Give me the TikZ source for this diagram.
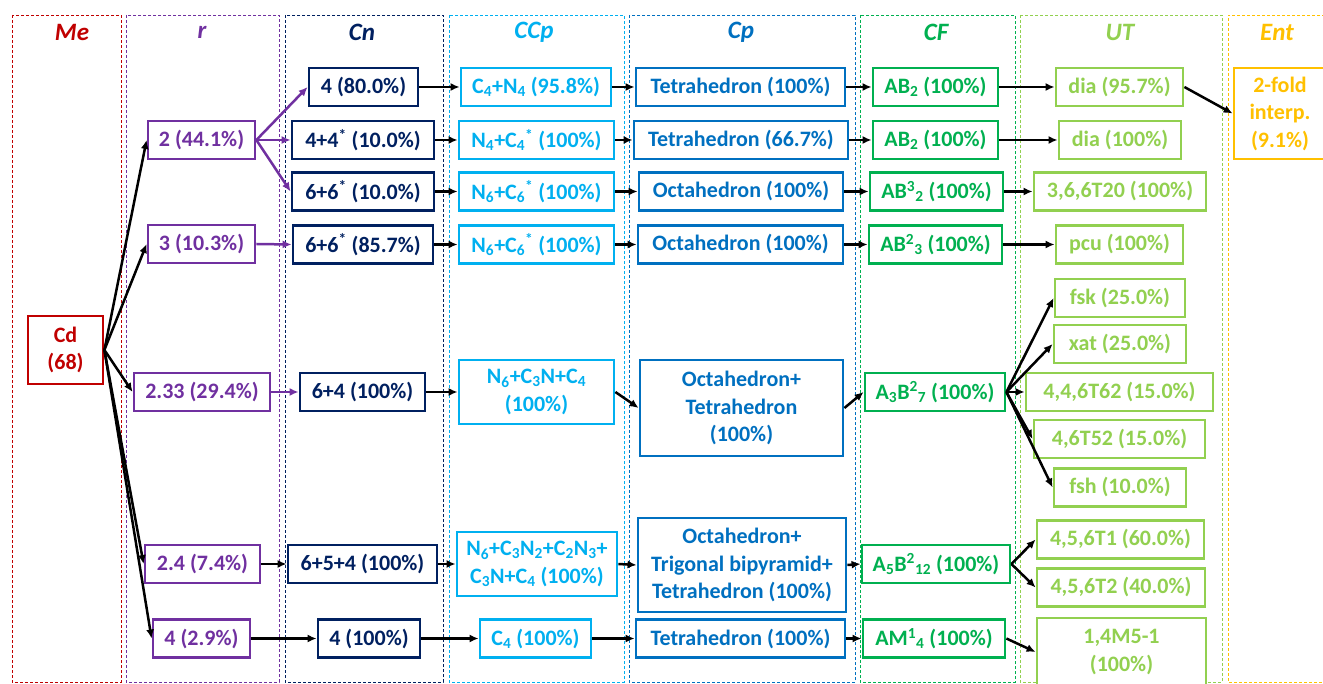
\documentclass[tikz,border=0pt]{standalone}
\usepackage{fontspec}
\setmainfont{Carlito}
\usepackage{xcolor}
\usetikzlibrary{arrows.meta}
\definecolor{mecol}{HTML}{C00000}
\definecolor{rcol}{HTML}{7030A0}
\definecolor{cncol}{HTML}{002060}
\definecolor{ccpcol}{HTML}{00B0F0}
\definecolor{cpcol}{HTML}{0070C0}
\definecolor{cfcol}{HTML}{00B050}
\definecolor{utcol}{HTML}{92D050}
\definecolor{entcol}{HTML}{FFC000}
\tikzstyle{box}=[
        draw,
        line width = 2.8pt,
        fill = white,
        font = \bfseries\fontsize{22}{27.5}\selectfont,
        align = center,
        inner sep = 0pt,
        minimum height = 38pt
    ]
\tikzstyle{me box}=[box, draw = mecol, text = mecol]
\tikzstyle{r box}=[box, draw = rcol, text = rcol]
\tikzstyle{cn box}=[box, draw = cncol, text = cncol]
\tikzstyle{ccp box}=[box, draw = ccpcol, text = ccpcol]
\tikzstyle{cp box}=[box, draw = cpcol, text = cpcol]
\tikzstyle{cf box}=[box, draw = cfcol, text = cfcol]
\tikzstyle{ut box}=[box, draw = utcol, text = utcol]
\tikzstyle{ent box}=[box, draw = entcol, text = entcol]
\tikzstyle{column}=[line width = 0.9pt, dash pattern = on 3pt off 2pt]
\tikzstyle{head}=[font = \bfseries\itshape\fontsize{25}{29}\selectfont]
\tikzstyle{arrow}=[line width = 2.5pt, -{Latex[length=9pt,width=8pt]}]
\begin{document}
\begin{tikzpicture}[x=1pt, y=-1pt]
        \clip (0,0) rectangle (1323,684);
        \fill[white] (0,0) rectangle (1323,684);

        % columns
        \draw[column, draw = mecol] (12,15) rectangle (121,682);
        \draw[column, draw = rcol] (126,15) rectangle (279,682);
        \draw[column, draw = cncol] (285,15) rectangle (443,682);
        \draw[column, draw = ccpcol] (449,15) rectangle (624,682);
        \draw[column, draw = cpcol] (629,15) rectangle (855,682);
        \draw[column, draw = cfcol] (860,15) rectangle (1015,682);
        \draw[column, draw = utcol] (1020,15) rectangle (1222,682);
        \draw[column, draw = entcol] (1340,15) -- (1228,15) -- (1228,682) -- (1340,682);

        \node[head, text = mecol] (hme) at (72,32) {Me};
        \node[head, text = rcol] (hr) at (202,32) {r};
        \node[head, text = cncol] (hcn) at (362,32) {Cn};
        \node[head, text = ccpcol] (hccp) at (534,32) {CCp};
        \node[head, text = cpcol] (hcp) at (741,32) {Cp};
        \node[head, text = cfcol] (hcf) at (936,32) {CF};
        \node[head, text = utcol] (hut) at (1120,32) {UT};
        \node[head, text = entcol] (hent) at (1277,32) {Ent};

        % Me
        \node[me box, minimum width = 75pt, minimum height = 68pt] (cd) at (65.5,350) {Cd\\(68)};

        % r
        \node[r box, minimum width = 107pt] (r1) at (201.5,140) {2 (44.1\%)};
        \node[r box, minimum width = 107pt] (r2) at (201.5,244) {3 (10.3\%)};
        \node[r box, minimum width = 136pt] (r3) at (202,392) {2.33 (29.4\%)};
        \node[r box, minimum width = 115pt] (r4) at (202.5,564) {2.4 (7.4\%)};
        \node[r box, minimum width = 97pt] (r5) at (201.5,638.5) {4 (2.9\%)};

        % Cn
        \node[cn box, minimum width = 109pt] (c1) at (363.5,87) {4 (80.0\%)};
        \node[cn box, minimum width = 142pt] (c2) at (363,140) {4+4\textsuperscript{*} (10.0\%)};
        \node[cn box, minimum width = 142pt] (c3) at (363,191.5) {6+6\textsuperscript{*} (10.0\%)};
        \node[cn box, minimum width = 140pt] (c4) at (363,244.5) {6+6\textsuperscript{*} (85.7\%)};
        \node[cn box, minimum width = 125pt] (c5) at (362.5,392) {6+4 (100\%)};
        \node[cn box, minimum width = 149pt] (c6) at (362.5,564) {6+5+4 (100\%)};
        \node[cn box, minimum width = 102pt] (c7) at (369,638.5) {4 (100\%)};

        % CCp
        \node[ccp box, minimum width = 150pt] (p1) at (536,87) {C\textsubscript{4}+N\textsubscript{4} (95.8\%)};
        \node[ccp box, minimum width = 155pt] (p2) at (536.5,140) {N\textsubscript{4}+C\textsubscript{4}\textsuperscript{*} (100\%)};
        \node[ccp box, minimum width = 155pt] (p3) at (536.5,191.5) {N\textsubscript{6}+C\textsubscript{6}\textsuperscript{*} (100\%)};
        \node[ccp box, minimum width = 155pt] (p4) at (536.5,244.5) {N\textsubscript{6}+C\textsubscript{6}\textsuperscript{*} (100\%)};
        \node[ccp box, minimum width = 155pt, minimum height = 64pt] (p5) at (536.5,392) {N\textsubscript{6}+C\textsubscript{3}N+C\textsubscript{4}\\(100\%)};
        \node[ccp box, minimum width = 160pt, minimum height = 64pt] (p6) at (537,564) {N\textsubscript{6}+C\textsubscript{3}N\textsubscript{2}+C\textsubscript{2}N\textsubscript{3}+\\C\textsubscript{3}N+C\textsubscript{4} (100\%)};
        \node[ccp box, minimum width = 111pt] (p7) at (535.5,638.5) {C\textsubscript{4} (100\%)};

        % Cp
        \node[cp box, minimum width = 209pt] (q1) at (740.5,87) {Tetrahedron (100\%)};
        \node[cp box, minimum width = 214pt] (q2) at (741,140) {Tetrahedron (66.7\%)};
        \node[cp box, minimum width = 204pt] (q3) at (741,191.5) {Octahedron (100\%)};
        \node[cp box, minimum width = 205pt] (q4) at (740.5,244.5) {Octahedron (100\%)};
        \node[cp box, minimum width = 203pt, minimum height = 96pt] (q5) at (741.5,408) {Octahedron+\\Tetrahedron\\(100\%)};
        \node[cp box, minimum width = 208pt, minimum height = 94pt] (q6) at (742,565) {Octahedron+\\Trigonal bipyramid+\\Tetrahedron (100\%)};
        \node[cp box, minimum width = 209pt] (q7) at (740.5,638.5) {Tetrahedron (100\%)};

        % CF
        \node[cf box, minimum width = 125pt] (f1) at (935.5,87) {AB\textsubscript{2} (100\%)};
        \node[cf box, minimum width = 125pt] (f2) at (935.5,140) {AB\textsubscript{2} (100\%)};
        \node[cf box, minimum width = 133pt] (f3) at (936.5,191.5) {AB\textsuperscript{3}\textsubscript{2} (100\%)};
        \node[cf box, minimum width = 133pt] (f4) at (935.5,244.5) {AB\textsuperscript{2}\textsubscript{3} (100\%)};
        \node[cf box, minimum width = 140pt] (f5) at (935,392) {A\textsubscript{3}B\textsuperscript{2}\textsubscript{7} (100\%)};
        \node[cf box, minimum width = 148pt] (f6) at (936,564) {A\textsubscript{5}B\textsuperscript{2}\textsubscript{12} (100\%)};
        \node[cf box, minimum width = 142pt] (f7) at (934,638.5) {AM\textsuperscript{1}\textsubscript{4} (100\%)};

        % UT
        \node[ut box, minimum width = 127pt] (u1) at (1119.5,87) {dia (95.7\%)};
        \node[ut box, minimum width = 122pt] (u2) at (1120,140) {dia (100\%)};
        \node[ut box, minimum width = 172pt] (u3) at (1120,191.5) {3,6,6T20 (100\%)};
        \node[ut box, minimum width = 127pt] (u4) at (1119.5,244.5) {pcu (100\%)};
        \node[ut box, minimum width = 130pt] (u5) at (1120,298) {fsk (25.0\%)};
        \node[ut box, minimum width = 132pt] (u6) at (1120,344) {xat (25.0\%)};
        \node[ut box, minimum width = 187pt] (u7) at (1119.5,392) {4,4,6T62 (15.0\%)};
        \node[ut box, minimum width = 171pt] (u8) at (1119.5,439) {4,6T52 (15.0\%)};
        \node[ut box, minimum width = 132pt] (u9) at (1120,487.5) {fsh (10.0\%)};
        \node[ut box, minimum width = 167pt] (u10) at (1120.5,539.5) {4,5,6T1 (60.0\%)};
        \node[ut box, minimum width = 168pt] (u11) at (1121,587.5) {4,5,6T2 (40.0\%)};
        \node[ut box, minimum width = 169pt, minimum height = 68pt] (u12) at (1121.5,652) {1,4M5-1\\(100\%)};

        % Ent
        \node[ent box, minimum width = 92pt, minimum height = 91pt] (e1) at (1280,113.5) {2-fold\\interp.\\(9.1\%)};

        % Me -> r
        \draw[arrow] (cd.east) -- (r1.west);
        \draw[arrow] (cd.east) -- (r2.west);
        \draw[arrow] (cd.east) -- (r3.west);
        \draw[arrow] (cd.east) -- (r4.west);
        \draw[arrow] (cd.east) -- (r5.west);

        % r -> Cn
        \draw[arrow, rcol] (r1.east) -- (c1.west);
        \draw[arrow, rcol] (r1.east) -- (c2.west);
        \draw[arrow, rcol] (r1.east) -- (c3.west);
        \draw[arrow, rcol] (r2.east) -- (c4.west);
        \draw[arrow, rcol] (r3.east) -- (c5.west);
        \draw[arrow] (r4.east) -- (c6.west);
        \draw[arrow] (r5.east) -- (c7.west);

        % Cn -> CCp -> Cp -> CF
        \foreach \i in {1,...,7} {
            \draw[arrow] (c\i.east) -- (p\i.west);
            \draw[arrow] (p\i.east) -- (q\i.west);
            \draw[arrow] (q\i.east) -- (f\i.west);
        }

        % CF -> UT
        \draw[arrow] (f1.east) -- (u1.west);
        \draw[arrow] (f2.east) -- (u2.west);
        \draw[arrow] (f3.east) -- (u3.west);
        \draw[arrow] (f4.east) -- (u4.west);
        \foreach \j in {5,...,9}
            \draw[arrow] (f5.east) -- (u\j.west);
        \draw[arrow] (f6.east) -- (u10.west);
        \draw[arrow] (f6.east) -- (u11.west);
        \draw[arrow] (f7.east) -- (u12.west);

        % UT -> Ent
        \draw[arrow] (u1.east) -- (e1.west);

    \end{tikzpicture}
\end{document}
